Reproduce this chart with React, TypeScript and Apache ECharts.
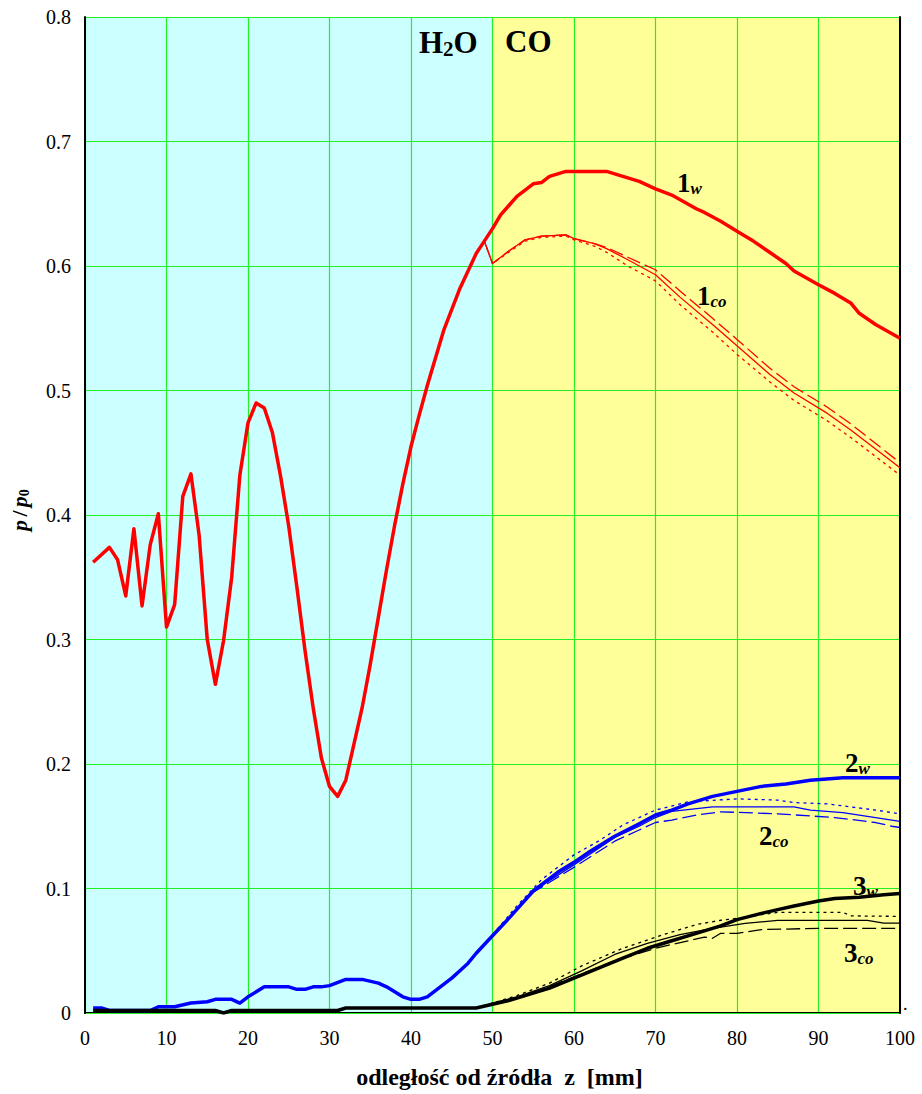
import React, { useEffect, useRef } from "react";
import * as echarts from "echarts";

// ---- data ----
const xTicks = [0, 10, 20, 30, 40, 50, 60, 70, 80, 90, 100];
const yTicks = [0, 0.1, 0.2, 0.3, 0.4, 0.5, 0.6, 0.7, 0.8];

const x1w = [1, 3, 4, 5, 6, 7, 8, 9, 10, 11, 12, 13, 14, 15, 16, 17, 18, 19, 20, 21, 22, 23, 24, 25, 26, 27, 28, 29, 30, 31, 32, 33, 34, 35, 36, 37, 38, 39, 40, 41, 42, 44, 46, 48, 49, 50, 51, 53, 55, 56, 57, 59, 64, 66, 68, 70, 72, 75, 76, 78, 80, 82, 84, 86, 87, 90, 92, 94, 95, 97, 100];
const p1w = [0.362, 0.374, 0.364, 0.335, 0.389, 0.327, 0.376, 0.401, 0.31, 0.328, 0.415, 0.433, 0.384, 0.3, 0.264, 0.299, 0.35, 0.432, 0.474, 0.49, 0.486, 0.466, 0.431, 0.391, 0.342, 0.291, 0.245, 0.205, 0.182, 0.174, 0.187, 0.216, 0.245, 0.28, 0.318, 0.356, 0.392, 0.425, 0.455, 0.48, 0.504, 0.548, 0.582, 0.61, 0.62, 0.63, 0.641, 0.656, 0.666, 0.667, 0.672, 0.676, 0.676, 0.672, 0.668, 0.662, 0.657, 0.646, 0.643, 0.636, 0.628, 0.62, 0.611, 0.602, 0.596, 0.585, 0.578, 0.57, 0.562, 0.553, 0.542];

const x1co = [49, 50, 52, 54, 56, 59, 60, 62.5, 64, 66.6, 70, 73, 77, 80, 84, 87, 91, 94, 100];
const p1coSolid = [0.62, 0.602, 0.612, 0.621, 0.624, 0.625, 0.622, 0.618, 0.614, 0.605, 0.593, 0.575, 0.553, 0.536, 0.513, 0.498, 0.482, 0.468, 0.438];
const p1coDash = [0.62, 0.602, 0.612, 0.621, 0.624, 0.625, 0.622, 0.618, 0.615, 0.607, 0.597, 0.58, 0.558, 0.541, 0.518, 0.503, 0.487, 0.473, 0.442];
const p1coDot = [0.62, 0.602, 0.611, 0.62, 0.623, 0.624, 0.621, 0.616, 0.611, 0.6, 0.588, 0.569, 0.547, 0.529, 0.507, 0.492, 0.476, 0.462, 0.432];

const x2w = [1, 2, 3, 8, 9, 11, 13, 15, 16, 18, 19, 20, 22, 25, 26, 27, 28, 29, 30, 32, 34, 36, 37, 38, 39, 40, 41, 42, 43, 44, 45, 46, 47, 48, 49, 50, 52, 55, 58, 60, 62, 65, 68, 70, 72, 74, 77, 80, 83, 86, 89, 93, 100];
const p2w = [0.004, 0.004, 0.002, 0.002, 0.005, 0.005, 0.008, 0.009, 0.011, 0.011, 0.008, 0.013, 0.021, 0.021, 0.019, 0.019, 0.021, 0.021, 0.022, 0.027, 0.027, 0.024, 0.021, 0.017, 0.013, 0.011, 0.011, 0.013, 0.018, 0.023, 0.028, 0.034, 0.04, 0.048, 0.055, 0.062, 0.076, 0.098, 0.113, 0.121, 0.13, 0.142, 0.152, 0.159, 0.163, 0.168, 0.174, 0.178, 0.182, 0.184, 0.187, 0.189, 0.189];

const x2coSolid = [50, 55, 60, 65, 68, 70, 72, 77, 87, 89, 93, 95, 100];
const p2coSolid = [0.062, 0.098, 0.119, 0.141, 0.15, 0.157, 0.162, 0.1656, 0.1656, 0.163, 0.161, 0.159, 0.154];
const x2coDot = [50, 53, 56, 60, 63, 66, 70, 74, 80, 85, 87, 91, 97, 100];
const p2coDot = [0.063, 0.086, 0.107, 0.127, 0.138, 0.151, 0.163, 0.1696, 0.172, 0.171, 0.169, 0.168, 0.163, 0.16];
const x2coDash = [50, 55, 60, 65, 68, 70, 72, 75, 78, 85, 92, 97, 99, 100];
const p2coDash = [0.062, 0.097, 0.117, 0.138, 0.147, 0.153, 0.155, 0.159, 0.1616, 0.16, 0.157, 0.153, 0.15, 0.149];

const x3w = [1, 16, 17, 18, 31, 32, 48, 50, 52, 55, 57, 60, 63, 66, 69, 72, 75, 78, 80, 83, 85, 87, 90, 92, 95, 98, 100];
const p3w = [0.002, 0.002, 0, 0.002, 0.002, 0.004, 0.004, 0.007, 0.01, 0.016, 0.02, 0.028, 0.036, 0.044, 0.052, 0.058, 0.064, 0.07, 0.075, 0.08, 0.083, 0.086, 0.09, 0.092, 0.093, 0.095, 0.096];

const x3coSolid = [48, 50, 53, 57, 61, 65, 69, 73, 77, 81, 85, 90, 96, 98, 100];
const p3coSolid = [0.004, 0.008, 0.013, 0.022, 0.034, 0.047, 0.056, 0.063, 0.068, 0.072, 0.0744, 0.0744, 0.0744, 0.0722, 0.0722];
const x3coDot = [48, 50, 53, 57, 61, 66, 71, 75, 78, 80, 85, 90, 93, 94, 100];
const p3coDot = [0.004, 0.008, 0.014, 0.024, 0.038, 0.052, 0.063, 0.071, 0.0745, 0.076, 0.0808, 0.0808, 0.0808, 0.078, 0.0776];
const x3coDash = [48, 50, 55, 60, 65, 70, 74, 76, 77, 78, 80, 83, 90, 100];
const p3coDash = [0.004, 0.007, 0.016, 0.029, 0.042, 0.052, 0.058, 0.061, 0.06, 0.064, 0.064, 0.067, 0.068, 0.068];

const FONT = "'Liberation Serif', 'Times New Roman', serif";
const RED = "#FF0000";
const BLUE = "#0000FF";
const BLACK = "#000000";
const GRID_GREEN = "#22F022";

const pairs = (xs: number[], ys: number[]) => xs.map((x, i) => [x, ys[i]]);

const line = (name: string, data: number[][], color: string, width: number, type: any = "solid", z = 3) => ({
  name,
  type: "line",
  data,
  showSymbol: false,
  symbol: "none",
  z,
  lineStyle: { color, width, type, cap: "butt", join: "round" },
});

const label = (x: number, y: number, main: string, sub: string) => ({
  type: "text",
  x,
  y,
  z: 100,
  style: {
    text: `{m|${main}}{s|${sub}}`,
    fill: "#000",
    rich: {
      m: { fontFamily: FONT, fontWeight: "bold", fontSize: 27, fill: "#000" },
      s: { fontFamily: FONT, fontWeight: "bold", fontStyle: "italic", fontSize: 17, fill: "#000", padding: [12, 0, 0, 0] },
    },
  },
});

export default function App() {
  const ref = useRef<HTMLDivElement>(null);
  useEffect(() => {
    if (!ref.current) return;
    const chart = echarts.init(ref.current, undefined, { renderer: "svg" });
    const splitColors = xTicks.slice(0, -1).map((t) => (t < 50 ? "#CCFFFF" : "#FFFF99"));
    chart.setOption({
      animation: false,
      backgroundColor: "#ffffff",
      grid: { left: 82, right: 22, top: 17, bottom: 65, containLabel: false },
      xAxis: {
        type: "value",
        z: 0,
        min: xTicks[0],
        max: xTicks[xTicks.length - 1],
        interval: 10,
        name: "odległość od źródła  z  [mm]",
        nameLocation: "middle",
        nameGap: 52,
        nameTextStyle: { fontFamily: FONT, fontWeight: "bold", fontSize: 24, color: "#000", padding: [0, 0, 0, 14] },
        axisLine: { show: true, onZero: false, lineStyle: { color: "#000", width: 2 } },
        axisTick: { show: false },
        axisLabel: { fontFamily: FONT, fontSize: 20, color: "#000", margin: 15 },
        splitLine: { show: true, lineStyle: { color: GRID_GREEN, width: 1.2 } },
        splitArea: { show: true, areaStyle: { color: splitColors } },
      },
      yAxis: [
        {
          type: "value",
          z: 1,
          min: yTicks[0],
          max: yTicks[yTicks.length - 1],
          interval: 0.1,
          name: "{i|p} {n|/} {i|p}{s|0}",
          nameLocation: "middle",
          nameGap: 54,
          nameRotate: 90,
          nameTextStyle: {
            color: "#000",
            padding: [0, 0, 0, 10],
            rich: {
              i: { fontFamily: FONT, fontWeight: "bold", fontStyle: "italic", fontSize: 22, color: "#000" },
              n: { fontFamily: FONT, fontWeight: "bold", fontSize: 22, color: "#000" },
              s: { fontFamily: FONT, fontWeight: "bold", fontSize: 14, color: "#000", padding: [10, 0, 0, 0] },
            },
          },
          axisLine: { show: true, onZero: false, lineStyle: { color: "#000", width: 2 } },
          axisTick: { show: false },
          axisLabel: {
            fontFamily: FONT,
            fontSize: 20,
            color: "#000",
            margin: 14,
            formatter: (v: number) => (v === 0 ? "0" : v.toFixed(1)),
          },
          splitLine: { show: true, lineStyle: { color: GRID_GREEN, width: 1.2 } },
        },
        {
          type: "value",
          z: 1,
          position: "right",
          min: yTicks[0],
          max: yTicks[yTicks.length - 1],
          interval: 0.1,
          axisLine: { show: true, onZero: false, lineStyle: { color: "#000", width: 2 } },
          axisTick: { show: false },
          axisLabel: { show: false },
          splitLine: { show: false },
        },
      ],
      series: [
        line("1co dotted", pairs(x1co, p1coDot), RED, 1.3, [3, 4]),
        line("1co dashed", pairs(x1co, p1coDash), RED, 1.3, [14, 5]),
        line("1co", pairs(x1co, p1coSolid), RED, 1.3),
        line("1w", pairs(x1w, p1w), RED, 3.5, "solid", 5),
        line("2co dotted", pairs(x2coDot, p2coDot), BLUE, 1.3, [3, 4]),
        line("2co dashed", pairs(x2coDash, p2coDash), BLUE, 1.3, [14, 5]),
        line("2co", pairs(x2coSolid, p2coSolid), BLUE, 1.3),
        line("2w", pairs(x2w, p2w), BLUE, 3.5, "solid", 5),
        line("3co dotted", pairs(x3coDot, p3coDot), BLACK, 1.3, [3, 4]),
        line("3co dashed", pairs(x3coDash, p3coDash), BLACK, 1.3, [14, 5]),
        line("3co", pairs(x3coSolid, p3coSolid), BLACK, 1.3),
        line("3w", pairs(x3w, p3w), BLACK, 3.5, "solid", 5),
      ],
      graphic: [
        {
          type: "text",
          x: 419,
          y: 26,
          z: 100,
          style: {
            text: "{m|H}{s|2}{m|O}",
            rich: {
              m: { fontFamily: FONT, fontWeight: "bold", fontSize: 31, fill: "#000" },
              s: { fontFamily: FONT, fontWeight: "bold", fontSize: 21, fill: "#000", padding: [12, 0, 0, 0] },
            },
          },
        },
        {
          type: "text",
          x: 505,
          y: 26,
          z: 100,
          style: { text: "CO", fontFamily: FONT, fontWeight: "bold", fontSize: 31, fill: "#000" },
        },
        label(677, 168, "1", "w"),
        label(697, 281, "1", "co"),
        label(845, 748, "2", "w"),
        label(759, 821, "2", "co"),
        label(853, 871, "3", "w"),
        label(844, 938, "3", "co"),
        {
          type: "text",
          x: 903,
          y: 995,
          z: 100,
          style: { text: ".", fontFamily: FONT, fontSize: 18, fill: "#000" },
        },
      ],
    });
    return () => chart.dispose();
  }, []);
  return <div ref={ref} style={{ position: "absolute", left: 0, top: 0, width: 922, height: 1094 }} />;
}
